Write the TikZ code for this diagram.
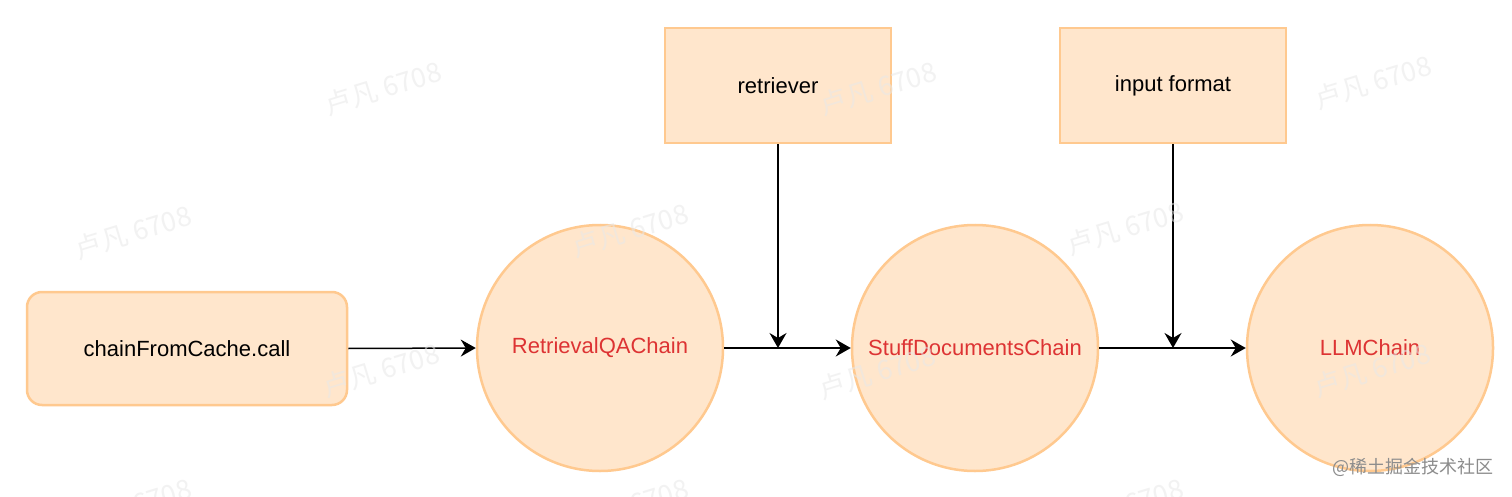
\documentclass[tikz,border=0pt]{standalone}
\usepackage{fontspec}
\setmainfont{Liberation Sans}
\newfontfamily\cjk{Noto Sans CJK SC}
\usetikzlibrary{arrows.meta}
\definecolor{boxfill}{HTML}{FFE6CC}
\definecolor{boxline}{HTML}{FFC98F}
\definecolor{redtext}{HTML}{DD3333}
\definecolor{wm}{HTML}{E8E8E8}
\tikzset{
  base/.style={draw=boxline, fill=boxfill, line width=2.5pt, font=\fontsize{22}{26}\selectfont, inner sep=0pt},
  roundbox/.style={base, rounded corners=15pt, minimum width=320pt, minimum height=113pt},
  sqbox/.style={base, minimum width=226pt, minimum height=115pt},
  chaincircle/.style={base, circle, minimum size=246pt, text=redtext},
  conn/.style={line width=1.5pt, -{Stealth[length=15pt,width=17pt,inset=5pt]}},
  wmark/.style={text=wm, opacity=0.55, font=\cjk\fontsize{27}{30}\selectfont, rotate=17},
}
\begin{document}
\begin{tikzpicture}[x=1pt,y=-1pt]
\path[use as bounding box, fill=white] (0,0) rectangle (1512,497);
% nodes
\node[roundbox] (call) at (187,348.5) {chainFromCache.call};
\node[chaincircle] (rqa) at (600,348) {RetrievalQAChain};
\node[chaincircle] (sdc) at (975,348) {StuffDocumentsChain};
\node[chaincircle] (llm) at (1370,348) {LLMChain};
\node[sqbox] (ret) at (778,85.5) {retriever};
\node[sqbox] (inf) at (1173,85.5) {input format};
\coordinate (j1) at (ret.south |- rqa.east);
\coordinate (j2) at (inf.south |- sdc.east);
% connectors
\draw[conn] (call.east) -- (rqa.west);
\draw[conn] (rqa.east) -- (sdc.west);
\draw[conn] (sdc.east) -- (llm.west);
\draw[conn] (ret.south) -- (j1);
\draw[conn] (inf.south) -- (j2);
% watermarks
\foreach \px/\py in {383/88, 878/88, 1373/82, 133/232, 630/230, 1125/228, 381/370, 877/372, 1372/370, 133/505, 630/505, 1125/505}
  \node[wmark] at (\px,\py) {卢凡 6708};
\node[text=black!45, font=\cjk\fontsize{18}{22}\selectfont, anchor=east] (brand) at (1497,467) {@稀土掘金技术社区};
\end{tikzpicture}
\end{document}
